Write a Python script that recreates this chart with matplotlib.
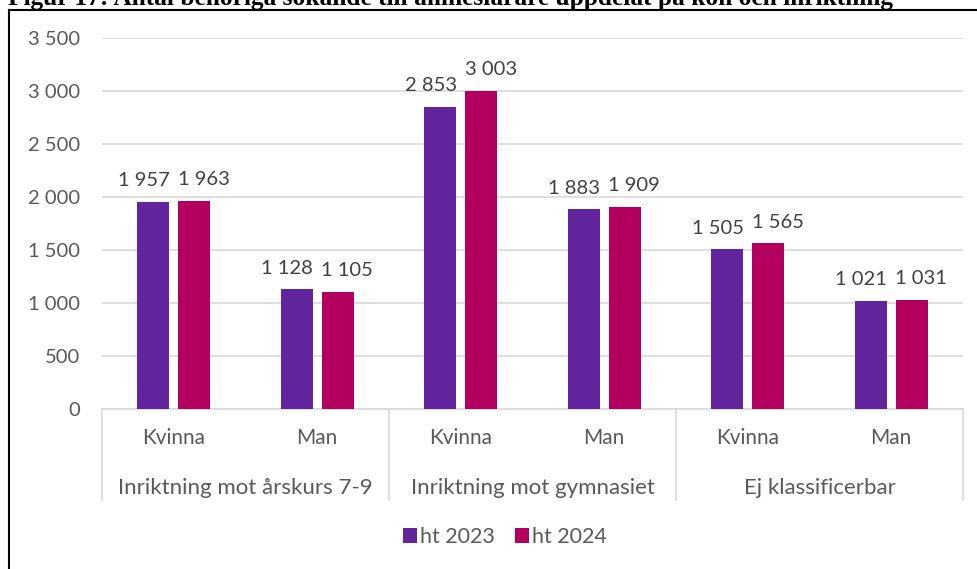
import numpy as np
import matplotlib.pyplot as plt
from matplotlib.lines import Line2D

# chart data
groups = ['Inriktning mot årskurs 7-9', 'Inriktning mot gymnasiet', 'Ej klassificerbar']
sexes = ['Kvinna', 'Man']
ht2023 = [1957, 1128, 2853, 1883, 1505, 1021]
ht2024 = [1963, 1105, 3003, 1909, 1565, 1031]
series_names = ['ht 2023', 'ht 2024']
yticks = [0, 500, 1000, 1500, 2000, 2500, 3000, 3500]

purple = '#62259E'
magenta = '#B3005E'
grid_c = '#D9D9D9'
tick_c = '#595959'
label_c = '#404040'

plt.rcParams['font.family'] = ['Lato', 'DejaVu Sans']

W, H = 978, 569
fig = plt.figure(figsize=(W / 100, H / 100), dpi=100)
ax = fig.add_axes([102 / W, 1 - 409 / H, (963 - 102) / W, (409 - 38) / H])

def fmt(v):
    return '{:,}'.format(v).replace(',', ' ')

x = np.arange(len(ht2023)) + 0.5
bw = 0.223
off = 0.142
b1 = ax.bar(x - off, ht2023, bw, color=purple, zorder=3)
b2 = ax.bar(x + off, ht2024, bw, color=magenta, zorder=3)

for xi, v in zip(x, ht2023):
    ax.annotate(fmt(v), (xi - off, v), xytext=(-7, 9), textcoords='offset points',
                ha='center', va='bottom', fontsize=14.5, color=label_c)
for xi, v in zip(x, ht2024):
    ax.annotate(fmt(v), (xi + off, v), xytext=(7, 9), textcoords='offset points',
                ha='center', va='bottom', fontsize=14.5, color=label_c)

ax.set_xlim(0, len(ht2023))
ax.set_ylim(0, 3500)
ax.set_yticks(yticks)
ax.set_yticklabels([fmt(t) for t in yticks], fontsize=14.5, color=tick_c)
ax.tick_params(axis='y', length=0, pad=16)
ax.set_xticks([])
ax.yaxis.grid(True, color=grid_c, linewidth=1.2, zorder=0)
for s in ax.spines.values():
    s.set_visible(False)

# category axis with two levels
xt = ax.get_xaxis_transform()
ax.plot([0, len(ht2023)], [0, 0], transform=xt, color=grid_c, lw=1.2, clip_on=False, zorder=2)
for sx in range(0, len(ht2023) + 1, 2):
    ax.plot([sx, sx], [0, -0.245], transform=xt, color=grid_c, lw=1.2, clip_on=False)
for i, xi in enumerate(x):
    ax.text(xi, -0.078, sexes[i % 2], transform=xt, ha='center', va='center',
            fontsize=15, color=tick_c)
for g, name in enumerate(groups):
    ax.text(2 * g + 1, -0.212, name, transform=xt, ha='center', va='center',
            fontsize=16, color=tick_c)

fig.legend([b1, b2], series_names, loc='center', bbox_to_anchor=(505 / W, 1 - 537 / H),
           ncol=2, frameon=False, fontsize=15.5, labelcolor=tick_c,
           handlelength=0.65, handleheight=0.65, handletextpad=0.15, columnspacing=0.9)

# outer frame and the cut-off caption above it
fig.add_artist(Line2D([8.5 / W, 8.5 / W], [1 - 10 / H, 0], color='black', lw=1.5))
fig.add_artist(Line2D([8.5 / W, 1], [1 - 10 / H, 1 - 10 / H], color='black', lw=1.5))
fig.text(8 / W, 1 - 5 / H, 'Figur 17: Antal behöriga sökande till ämneslärare uppdelat på kön och inriktning',
         family='Liberation Serif', weight='bold', fontsize=18.3, va='baseline', ha='left')

fig.savefig('out.png', dpi=100)
